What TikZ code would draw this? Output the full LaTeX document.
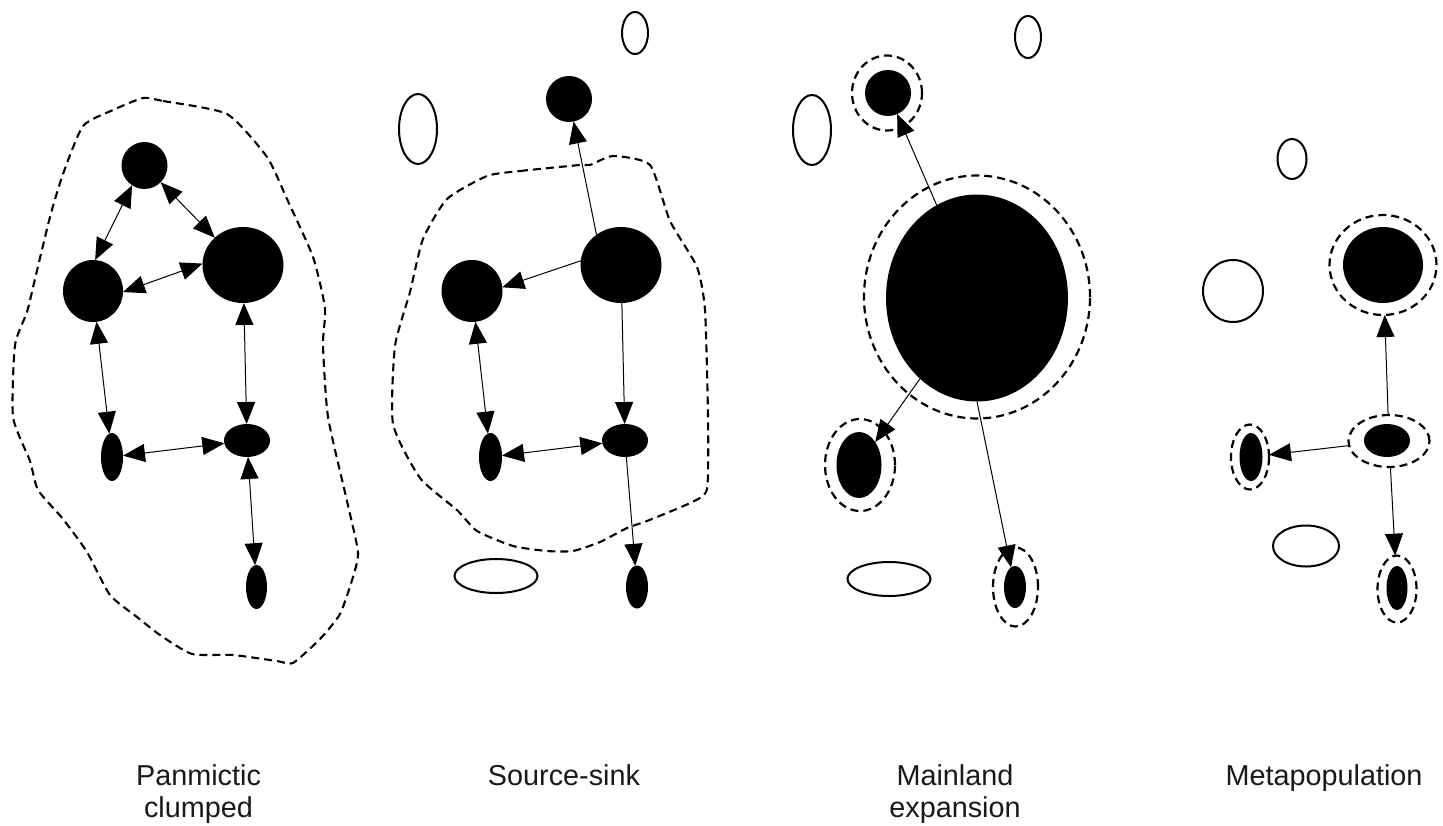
\documentclass[tikz,border=0pt]{standalone}
\usepackage{fontspec}
\setmainfont{Liberation Sans}
\usetikzlibrary{arrows.meta,shapes.geometric}
\begin{document}
\begin{tikzpicture}[x=1pt,y=-1pt,
  fnode/.style={ellipse,fill=black,draw=none,inner sep=0pt,outer sep=0pt},
  onode/.style={ellipse,draw=black,line width=2pt,fill=none,inner sep=0pt,outer sep=0pt},
  ring/.style={ellipse,draw=black,line width=2.2pt,dash pattern=on 8pt off 5pt,fill=none,inner sep=0pt,outer sep=0pt},
  blob/.style={draw=black,line width=2.1pt,dash pattern=on 8pt off 5pt},
  tip/.tip={Triangle[length=22pt,width=18pt]},
  uni/.style={line width=1pt,-tip},
  bi/.style={line width=1pt,tip-tip},
  lbl/.style={font=\fontsize{28.8}{32}\selectfont,text=black!90,inner sep=0pt,anchor=base}
]
\useasboundingbox (0,0) rectangle (1443,825);

% ---------------- Panel 1: Panmictic clumped ----------------
\draw[blob] plot[smooth cycle,tension=0.35] coordinates {
 (143,98) (163,101) (227,114) (267,157) (287,199) (313,257) (325,308) (323,345)
 (328,417) (347,501) (358,552) (353,577) (340,614) (320,639) (293,663) (277,661)
 (233,655) (192,654) (160,635) (137,617) (110,595) (87,552) (63,519) (38,490)
 (30,461) (13,417) (15,345) (27,312) (35,279) (50,217) (63,174) (83,126) (113,110)};
\node[fnode,minimum width=46pt,minimum height=47pt] (pa) at (144.5,165.5) {};
\node[fnode,minimum width=60pt,minimum height=62pt] (pb) at (93,291) {};
\node[fnode,minimum width=81pt,minimum height=76pt] (pc) at (243,265) {};
\node[fnode,minimum width=22pt,minimum height=48pt] (pd) at (112,457) {};
\node[fnode,minimum width=46pt,minimum height=33pt] (pe) at (247,440.5) {};
\node[fnode,minimum width=21pt,minimum height=44pt] (pf) at (256.5,587) {};
\draw[bi] (pa.238) -- (pb.86);
\draw[bi] (pa.-46) -- (pc.136);
\draw[bi] (pb.-2) -- (pc.178);
\draw[bi] (pb) -- (pd);
\draw[bi] (pc) -- (pe);
\draw[bi] (pd) -- (pe);
\draw[bi] (pe) -- (pf);

% ---------------- Panel 2: Source-sink ----------------
\draw[blob] plot[smooth cycle,tension=0.35] coordinates {
 (487,176) (520,171) (580,165) (590,165) (613,156) (650,165) (670,221) (697,267)
 (705,310) (708,417) (707,489) (690,503) (647,521) (627,528) (600,542) (573,551)
 (547,551) (513,546) (477,531) (457,510) (420,478) (393,424) (395,346) (410,292)
 (423,239) (447,199)};
\node[onode,minimum width=38pt,minimum height=70pt] (so1) at (418,129) {};
\node[onode,minimum width=26pt,minimum height=42pt] (so2) at (635,33) {};
\node[onode,minimum width=83pt,minimum height=34pt] (so3) at (496,576) {};
\node[fnode,minimum width=46pt,minimum height=46pt] (sa) at (569,99) {};
\node[fnode,minimum width=61pt,minimum height=62pt] (sb) at (472,291) {};
\node[fnode,minimum width=81pt,minimum height=76pt] (sc) at (621,265) {};
\node[fnode,minimum width=23pt,minimum height=48pt] (sd) at (490.5,457) {};
\node[fnode,minimum width=46pt,minimum height=33pt] (se) at (625,440.5) {};
\node[fnode,minimum width=22pt,minimum height=43pt] (sf) at (637,587) {};
\draw[uni] (sc.129) -- (sa);
\draw[uni] (sc.174) -- (sb.7);
\draw[uni] (sc) -- (se);
\draw[bi] (sb) -- (sd);
\draw[bi] (sd) -- (se);
\draw[uni] (se) -- (sf);

% ---------------- Panel 3: Mainland expansion ----------------
\node[onode,minimum width=38pt,minimum height=70pt] (mo1) at (812,130) {};
\node[onode,minimum width=26pt,minimum height=42pt] (mo2) at (1028,37) {};
\node[onode,minimum width=83pt,minimum height=34pt] (mo3) at (889,579) {};
\node[ring,minimum width=70pt,minimum height=75pt] (mra) at (887,93) {};
\node[fnode,minimum width=46pt,minimum height=46pt] (ma) at (888,93) {};
\node[ring,minimum width=226pt,minimum height=243pt] (mrb) at (977,297) {};
\node[fnode,minimum width=182pt,minimum height=207pt] (mb) at (977,298) {};
\node[ring,minimum width=70pt,minimum height=92pt] (mrc) at (860,465) {};
\node[fnode,minimum width=45pt,minimum height=66pt] (mc) at (859,465) {};
\node[ring,minimum width=45pt,minimum height=79pt] (mrd) at (1015.5,587) {};
\node[fnode,minimum width=22pt,minimum height=42pt] (md) at (1015,587) {};
\draw[uni] (mb) -- (ma);
\draw[uni] (mb) -- (mc);
\draw[uni] (mb.south) -- (md);

% ---------------- Panel 4: Metapopulation ----------------
\node[onode,minimum width=29pt,minimum height=40pt] (to1) at (1292,159) {};
\node[onode,minimum width=60pt,minimum height=62pt] (to2) at (1233,291) {};
\node[onode,minimum width=66pt,minimum height=41pt] (to3) at (1306,546) {};
\node[ring,minimum width=107pt,minimum height=100pt] (tra) at (1383,265) {};
\node[fnode,minimum width=80pt,minimum height=76pt] (ta) at (1383,265) {};
\node[ring,minimum width=81pt,minimum height=52pt] (trb) at (1389,441) {};
\node[fnode,minimum width=46pt,minimum height=33pt] (tb) at (1387,440.5) {};
\node[ring,minimum width=38pt,minimum height=65pt] (trc) at (1250,457) {};
\node[fnode,minimum width=23pt,minimum height=48pt] (tc) at (1251,457) {};
\node[ring,minimum width=39pt,minimum height=67pt] (trd) at (1397,589) {};
\node[fnode,minimum width=21pt,minimum height=44pt] (td) at (1397,588) {};
\draw[uni] (trb) -- (tra);
\draw[uni] (trb) -- (trc);
\draw[uni] (trb) -- (trd);

% ---------------- Labels ----------------
\node[lbl] (l1a) at (198.5,785) {Panmictic};
\node[lbl] (l1b) at (198.5,817) {clumped};
\node[lbl] (l2) at (564,785) {Source-sink};
\node[lbl] (l3a) at (955,785) {Mainland};
\node[lbl] (l3b) at (955,817) {expansion};
\node[lbl] (l4) at (1324,785) {Metapopulation};
\end{tikzpicture}
\end{document}
